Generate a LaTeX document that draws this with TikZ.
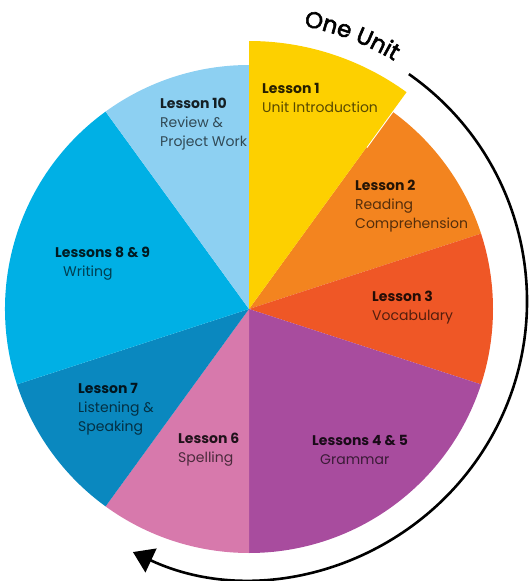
\documentclass[tikz,border=0pt]{standalone}
\usepackage{fontspec}
\setmainfont{Poppins}
\newfontfamily\unitfont{Poppins}[FakeBold=2.5]
\usepackage{tikz}
\usetikzlibrary{arrows.meta, decorations.text}
\definecolor{lsnyellow}{RGB}{253,208,0}
\definecolor{lsnorange}{RGB}{243,132,31}
\definecolor{lsnred}{RGB}{239,87,38}
\definecolor{lsnpurple}{RGB}{168,76,158}
\definecolor{lsnpink}{RGB}{215,121,172}
\definecolor{lsnblue}{RGB}{10,136,191}
\definecolor{lsncyan}{RGB}{0,176,229}
\definecolor{lsnsky}{RGB}{141,208,242}
\tikzset{
  lbl/.style={anchor=west, align=left, inner sep=0pt, text=black!65!#1,
    font=\fontsize{14}{19}\selectfont},
  unitarrow/.style={-{Triangle[length=20pt,width=26pt]}, line width=2.6pt, color=black},
  unittext/.style={decoration={text along path, text align=center,
    text={|\unitfont\fontsize{23}{23}\selectfont|One Unit}}, decorate}
}
\newcommand{\hd}[2]{{\color{black!85!#1}\bfseries #2}}

\begin{document}
\begin{tikzpicture}[x=1pt, y=1pt]
  \useasboundingbox (-249,-272) rectangle (281,309);

  % Slices
  \foreach \a/\b/\c in {54/18/lsnorange, 18/-18/lsnred, -18/-90/lsnpurple,
      -90/-126/lsnpink, -126/-162/lsnblue, 198/126/lsncyan, 126/90/lsnsky}
    \fill[\c] (0,0) -- (\a:244) arc[start angle=\a, end angle=\b, radius=244] -- cycle;
  \draw[white, line width=2pt] (54:200) -- (54:272);
  \fill[lsnyellow] (0,0) -- (90:268) arc[start angle=90, end angle=54, radius=268] -- cycle;

  % Labels
  \node[lbl=lsnyellow] (l1) at (13,211) {\hd{lsnyellow}{Lesson 1}\\Unit Introduction};
  \node[lbl=lsnorange] (l2) at (106,103) {\hd{lsnorange}{Lesson 2}\\Reading\\Comprehension};
  \node[lbl=lsnred] (l3) at (123,1) {\hd{lsnred}{Lesson 3}\\Vocabulary};
  \node[lbl=lsnpurple] (l45) at (63,-141) {\hd{lsnpurple}{Lessons 4 \& 5}\\\hspace*{8pt}Grammar};
  \node[lbl=lsnpink] (l6) at (-71,-141) {\hd{lsnpink}{Lesson 6}\\Spelling};
  \node[lbl=lsnblue] (l7) at (-171,-100) {\hd{lsnblue}{Lesson 7}\\Listening \&\\Speaking};
  \node[lbl=lsncyan] (l89) at (-194,45) {\hd{lsncyan}{Lessons 8 \& 9}\\\hspace*{8pt}Writing};
  \node[lbl=lsnsky] (l10) at (-89,185) {\hd{lsnsky}{Lesson 10}\\Review \&\\Project Work};

  % One unit arrow
  \begin{scope}[shift={(1,8)}]
    \path[unittext] (82:280) arc[start angle=82, end angle=56, radius=280];
    \coordinate (unitstart) at (55:277);
    \draw[unitarrow] (unitstart) arc[start angle=55, end angle=-115, radius=277];
  \end{scope}
\end{tikzpicture}
\end{document}
